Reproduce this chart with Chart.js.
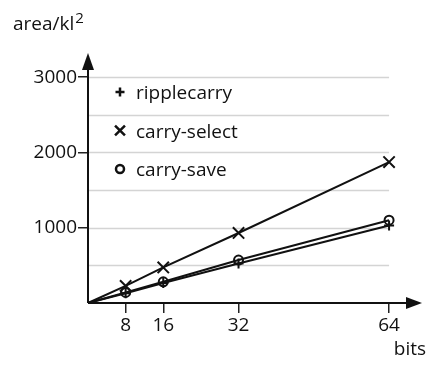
<!DOCTYPE html>
<html>
<head>
<meta charset="utf-8">
<script src="https://cdn.jsdelivr.net/npm/chart.js@4/dist/chart.umd.min.js"></script>
<style>
html,body{margin:0;padding:0;background:#fff;}
#wrap{width:437px;height:368px;position:relative;}
</style>
</head>
<body>
<div id="wrap"><canvas id="c" width="437" height="368"></canvas></div>
<script>
const bits = [0, 8, 16, 32, 64];
const ripplecarry = [0, 130, 265, 525, 1030];
const carrySelect = [0, 228, 472, 930, 1872];
const carrySave = [0, 140, 282, 570, 1100];
const seriesLabels = ['ripplecarry', 'carry-select', 'carry-save'];
const xTickValues = [8, 16, 32, 64];
const yTickValues = [1000, 2000, 3000];
const yGridValues = [500, 1000, 1500, 2000, 2500, 3000];
const yTitle = 'area/kl';
const yTitleSup = '2';
const xTitle = 'bits';

const FONT = '"Open Sans", "Liberation Sans", sans-serif';
const FS = 19;
const toXY = arr => bits.map((b, i) => ({x: b, y: arr[i]}));
const radii = (r) => bits.map(b => b === 0 ? 0 : r);

const decor = {
  id: 'decor',
  beforeDatasetsDraw(chart) {
    const {ctx, chartArea: a, scales: {x, y}} = chart;
    ctx.save();
    ctx.strokeStyle = '#d4d4d4';
    ctx.lineWidth = 1.5;
    const xr = x.getPixelForValue(xTickValues[xTickValues.length - 1]);
    yGridValues.forEach(v => {
      const py = Math.round(y.getPixelForValue(v)) + 0.5;
      ctx.beginPath(); ctx.moveTo(a.left + 1, py); ctx.lineTo(xr, py); ctx.stroke();
    });
    ctx.restore();
  },
  afterDraw(chart) {
    const {ctx, chartArea: a} = chart;
    ctx.save();
    ctx.strokeStyle = '#111'; ctx.fillStyle = '#111';
    ctx.lineWidth = 2;
    // y axis
    ctx.beginPath(); ctx.moveTo(a.left, a.bottom); ctx.lineTo(a.left, a.top + 10); ctx.stroke();
    ctx.beginPath(); ctx.moveTo(a.left, a.top); ctx.lineTo(a.left - 6, a.top + 17); ctx.lineTo(a.left + 6, a.top + 17); ctx.closePath(); ctx.fill();
    // x axis
    ctx.beginPath(); ctx.moveTo(a.left, a.bottom); ctx.lineTo(a.right - 10, a.bottom); ctx.stroke();
    ctx.beginPath(); ctx.moveTo(a.right, a.bottom); ctx.lineTo(a.right - 16, a.bottom - 6); ctx.lineTo(a.right - 16, a.bottom + 6); ctx.closePath(); ctx.fill();
    // titles
    ctx.font = FS + 'px ' + FONT;
    ctx.textBaseline = 'alphabetic';
    ctx.textAlign = 'left';
    ctx.fillText(yTitle, 13, 30);
    const w = ctx.measureText(yTitle).width;
    ctx.font = '15px ' + FONT;
    ctx.fillText(yTitleSup, 13 + w + 1, 23);
    ctx.font = FS + 'px ' + FONT;
    ctx.textAlign = 'right';
    ctx.fillText(xTitle, 426, 355);
    // legend
    ctx.textAlign = 'left';
    ctx.textBaseline = 'middle';
    const legR = [4.5, 7, 4];
    chart.data.datasets.forEach((ds, i) => {
      const mx = a.left + 32, my = a.top + 39 + i * 38.5;
      ctx.lineWidth = 2.5;
      ctx.strokeStyle = '#111';
      ctx.fillStyle = 'rgba(0,0,0,0)';
      Chart.helpers.drawPoint(ctx, {pointStyle: ds.pointStyle, radius: legR[i], borderWidth: 2.5, rotation: 0}, mx, my);
      ctx.fillStyle = '#111';
      ctx.font = FS + 'px ' + FONT;
      ctx.fillText(ds.label, a.left + 48, my + 2);
    });
    ctx.restore();
  }
};

const common = {
  borderColor: '#111', backgroundColor: 'rgba(0,0,0,0)', pointBorderColor: '#111',
  pointBackgroundColor: 'rgba(0,0,0,0)', borderWidth: 2, pointBorderWidth: 2,
  tension: 0, clip: false, pointHoverRadius: 0
};

new Chart(document.getElementById('c'), {
  type: 'line',
  data: {
    datasets: [
      Object.assign({label: seriesLabels[0], data: toXY(ripplecarry), pointStyle: 'cross', pointRadius: radii(5)}, common),
      Object.assign({label: seriesLabels[1], data: toXY(carrySelect), pointStyle: 'crossRot', pointRadius: radii(8)}, common),
      Object.assign({label: seriesLabels[2], data: toXY(carrySave), pointStyle: 'circle', pointRadius: radii(4.5)}, common)
    ]
  },
  options: {
    responsive: false, animation: false, devicePixelRatio: 1,
    layout: {padding: {left: 0, top: 53, right: 15, bottom: 0}},
    plugins: {legend: {display: false}, tooltip: {enabled: false}},
    events: [],
    scales: {
      x: {
        type: 'linear', min: 0, max: 71,
        afterFit: s => { s.height = 65; },
        afterBuildTicks: s => { s.ticks = xTickValues.map(v => ({value: v})); },
        grid: {drawOnChartArea: false, drawTicks: true, tickLength: 10, color: '#222', lineWidth: 1.5},
        border: {display: false},
        ticks: {color: '#111', font: {family: FONT, size: FS}, padding: 1, maxRotation: 0, autoSkip: false, callback: v => String(v)}
      },
      y: {
        type: 'linear', min: 0, max: 3320,
        afterFit: s => { s.width = 88; },
        afterBuildTicks: s => { s.ticks = yTickValues.map(v => ({value: v})); },
        grid: {drawOnChartArea: false, drawTicks: true, tickLength: 10, color: '#222', lineWidth: 1.5},
        border: {display: false},
        ticks: {color: '#111', font: {family: FONT, size: FS}, padding: 1, autoSkip: false, callback: v => String(v)}
      }
    }
  },
  plugins: [decor]
});
</script>
</body>
</html>
